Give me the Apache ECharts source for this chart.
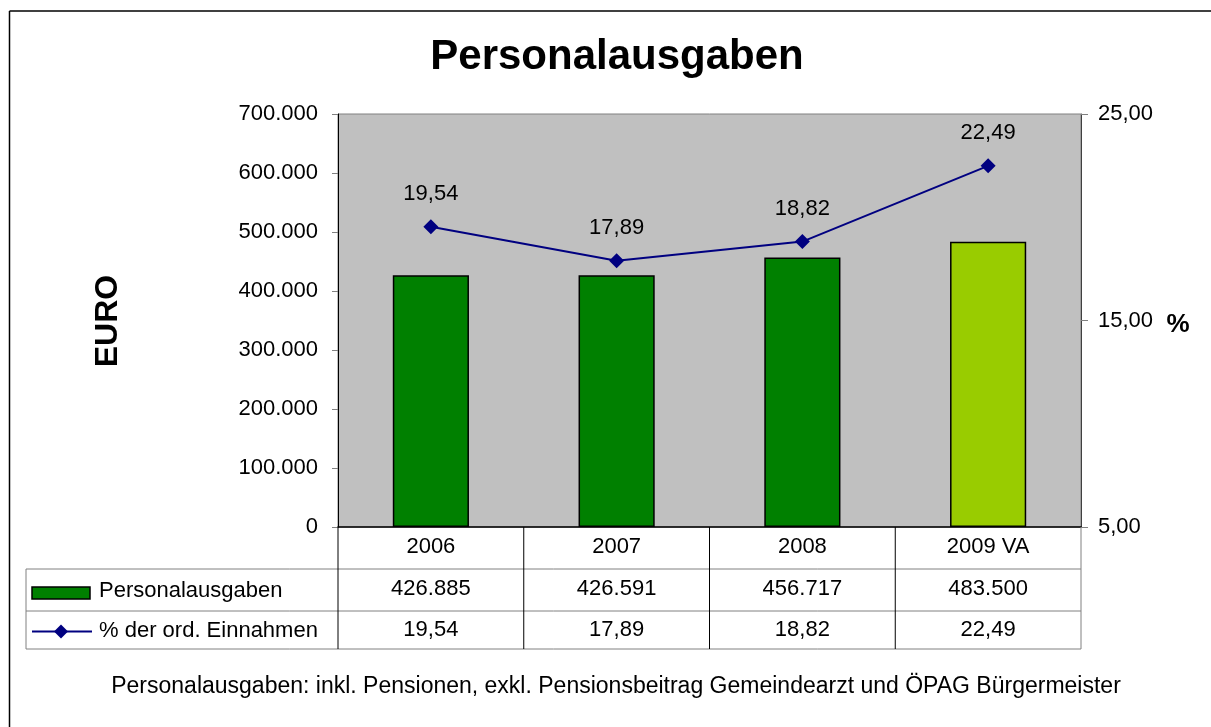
<!DOCTYPE html>
<html>
<head>
<meta charset="utf-8">
<script src="https://cdn.jsdelivr.net/npm/echarts@6/dist/echarts.min.js"></script>
<style>
  html, body { margin: 0; padding: 0; background: #fff; }
  #chart { width: 1211px; height: 727px; }
</style>
</head>
<body>
<div id="chart"></div>
<script>
// data
const categories = ["2006", "2007", "2008", "2009 VA"]
const ausgaben = [426885, 426591, 456717, 483500]
const anteil = [19.54, 17.89, 18.82, 22.49]
const euroRange = [0, 700000, 100000]   // min, max, step
const pctRange = [5, 25, 10]
const seriesNames = ["Personalausgaben", "% der ord. Einnahmen"]

const FONT = "Liberation Sans, Arial, sans-serif"
const FS = 22
const DARK = "#008000"
const LIGHT = "#99cc00"
const NAVY = "#000080"

// layout of plot and table rows
const PLOT = {left: 338, right: 130, top: 114, bottom: 200}
const ROWS = [527, 569, 611, 649]
const TABLE_LEFT = 26

function fmtEuro(v) {
  return String(v).replace(/\B(?=(\d{3})+(?!\d))/g, ".")
}

function fmtPct(v) {
  return Number(v).toFixed(2).replace(".", ",")
}

const chart = echarts.init(document.getElementById("chart"))

const option = {
  animation: false,
  textStyle: {fontFamily: FONT},
  grid: {
    left: PLOT.left,
    right: PLOT.right,
    top: PLOT.top,
    bottom: PLOT.bottom,
    show: true,
    backgroundColor: "#c0c0c0",
    borderColor: "#808080",
    borderWidth: 1,
  },
  xAxis: {
    type: "category",
    data: categories,
    axisLine: {lineStyle: {color: "#000", width: 1.5}},
    axisTick: {show: false},
    axisLabel: {fontSize: FS, color: "#000", margin: 9, fontFamily: FONT},
  },
  yAxis: [
    {
      type: "value",
      min: euroRange[0],
      max: euroRange[1],
      interval: euroRange[2],
      splitLine: {show: false},
      axisLine: {show: true, lineStyle: {color: "#000"}},
      axisTick: {show: true, length: 6, lineStyle: {color: "#808080"}},
      axisLabel: {fontSize: FS, color: "#000", margin: 20, fontFamily: FONT, formatter: fmtEuro},
    },
    {
      type: "value",
      position: "right",
      min: pctRange[0],
      max: pctRange[1],
      interval: pctRange[2],
      splitLine: {show: false},
      axisLine: {show: true, lineStyle: {color: "#404040"}},
      axisTick: {show: true, length: 7, lineStyle: {color: "#808080"}},
      axisLabel: {fontSize: FS, color: "#000", margin: 17, fontFamily: FONT, formatter: fmtPct},
    },
  ],
  series: [
    {
      name: seriesNames[0],
      type: "bar",
      data: ausgaben,
      barWidth: "41%",
      itemStyle: {
        color: (p) => (p.dataIndex === ausgaben.length - 1 ? LIGHT : DARK),
        borderColor: "#000",
        borderWidth: 1.5,
      },
    },
    {
      name: seriesNames[1],
      type: "line",
      yAxisIndex: 1,
      data: anteil,
      symbol: "diamond",
      symbolSize: 15,
      lineStyle: {color: NAVY, width: 2},
      itemStyle: {color: NAVY},
      label: {
        show: true,
        position: "top",
        distance: 14,
        fontSize: FS,
        color: "#000",
        fontFamily: FONT,
        formatter: (p) => fmtPct(p.value),
      },
    },
  ],
}

chart.setOption(option)

// data table under the plot, aligned to the category axis
function buildTable() {
  const xs = categories.map((c) => chart.convertToPixel({xAxisIndex: 0}, c))
  const step = xs[1] - xs[0]
  const plotRight = 1211 - PLOT.right
  const els = []
  const line = (x1, y1, x2, y2, color, w) => els.push({
    type: "line", z: 10,
    shape: {x1, y1, x2, y2},
    style: {stroke: color, lineWidth: w || 1},
  })
  const text = (x, y, str, align) => els.push({
    type: "text", z: 11, x, y,
    style: {text: str, fontSize: FS, fontFamily: FONT, fill: "#000", align: align || "center", verticalAlign: "middle"},
  })

  ROWS.slice(1).forEach((y) => line(TABLE_LEFT, y, plotRight, y, "#808080"))
  line(TABLE_LEFT, ROWS[1], TABLE_LEFT, ROWS[3], "#808080")
  line(plotRight, ROWS[0], plotRight, ROWS[3], "#808080")
  line(PLOT.left, ROWS[0], PLOT.left, ROWS[3], "#000")
  xs.slice(1).forEach((x) => line(x - step / 2, ROWS[0], x - step / 2, ROWS[3], "#000"))

  xs.forEach((x, i) => {
    text(x, 589, fmtEuro(ausgaben[i]))
    text(x, 630, fmtPct(anteil[i]))
  })

  // legend keys in the first column
  els.push({
    type: "rect", z: 11,
    shape: {x: 32, y: 587, width: 58, height: 12},
    style: {fill: DARK, stroke: "#000", lineWidth: 1.5},
  })
  text(99, 591, seriesNames[0], "left")
  line(32, 631.5, 92, 631.5, NAVY, 2)
  els.push({
    type: "polygon", z: 12,
    shape: {points: [[61, 624.5], [68, 631.5], [61, 638.5], [54, 631.5]]},
    style: {fill: NAVY},
  })
  text(99, 631, seriesNames[1], "left")

  // titles and frame
  els.push(
    {type: "text", x: 617, y: 57, style: {text: "Personalausgaben", fontSize: 42, fontWeight: "bold", fontFamily: FONT, fill: "#000", align: "center", verticalAlign: "middle"}},
    {type: "text", x: 108, y: 321, rotation: Math.PI / 2, style: {text: "EURO", fontSize: 32, fontWeight: "bold", fontFamily: FONT, fill: "#000", align: "center", verticalAlign: "middle"}},
    {type: "text", x: 1178, y: 325, style: {text: "%", fontSize: 26, fontWeight: "bold", fontFamily: FONT, fill: "#000", align: "center", verticalAlign: "middle"}},
    {type: "text", x: 616, y: 687, style: {text: "Personalausgaben: inkl. Pensionen, exkl. Pensionsbeitrag Gemeindearzt und ÖPAG Bürgermeister", fontSize: 23, fontFamily: FONT, fill: "#000", align: "center", verticalAlign: "middle"}},
    {type: "line", shape: {x1: 9.5, y1: 11, x2: 1211, y2: 11}, style: {stroke: "#000", lineWidth: 1.5}},
    {type: "line", shape: {x1: 9.5, y1: 11, x2: 9.5, y2: 727}, style: {stroke: "#000", lineWidth: 1.5}},
  )

  chart.setOption({graphic: els})
}

buildTable()
</script>
</body>
</html>
